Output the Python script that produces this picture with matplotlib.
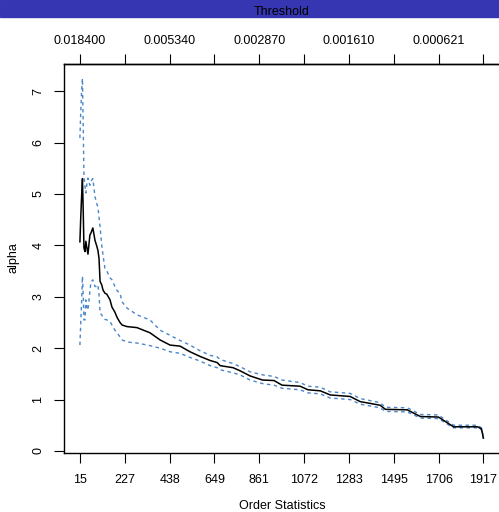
import matplotlib
matplotlib.use("Agg")
import matplotlib.pyplot as plt
from matplotlib.patches import Rectangle

plt.rcParams.update({
    'font.family': ['Liberation Sans', 'DejaVu Sans'],
    'font.size': 9,
})

# order statistics and Hill estimate with its band
k = [15, 19, 23, 27, 31, 34, 39, 43, 48, 53, 62, 67, 76, 86, 95, 100, 105,
     110, 118, 124, 133, 142, 157, 166, 180, 190, 204, 214, 237, 284, 345,
     393, 440, 487, 534, 581, 629, 662, 676, 737, 770, 817, 876, 930, 968,
     1053, 1090, 1148, 1195, 1289, 1336, 1430, 1455, 1558, 1620, 1705, 1776,
     1889, 1908, 1917]
alpha = [4.07, 4.55, 4.95, 5.3, 4.6, 3.95, 3.88, 4.08, 3.95, 3.83, 4.2, 4.24,
         4.34, 4.1, 3.98, 3.9, 3.75, 3.3, 3.23, 3.13, 3.07, 3.05, 2.94, 2.8,
         2.7, 2.6, 2.5, 2.45, 2.42, 2.4, 2.3, 2.16, 2.06, 2.04, 1.93, 1.84,
         1.76, 1.72, 1.66, 1.62, 1.56, 1.46, 1.38, 1.37, 1.28, 1.26, 1.19,
         1.17, 1.09, 1.06, 0.96, 0.89, 0.81, 0.80, 0.67, 0.66, 0.47, 0.47,
         0.43, 0.25]
upper = [6.09, 6.6, 7.0, 7.25, 6.2, 5.37, 5.15, 5.02, 5.2, 5.31, 5.17, 5.25,
         5.3, 4.95, 4.8, 4.75, 4.55, 4.36, 4.0, 3.81, 3.55, 3.5, 3.37, 3.33,
         3.2, 3.12, 3.07, 2.9, 2.78, 2.65, 2.55, 2.35, 2.25, 2.15, 2.06, 1.95,
         1.86, 1.83, 1.78, 1.70, 1.64, 1.54, 1.48, 1.45, 1.38, 1.33, 1.26,
         1.24, 1.15, 1.12, 1.02, 0.94, 0.85, 0.84, 0.71, 0.70, 0.50, 0.50,
         0.45, 0.26]
lower = [2.06, 2.5, 2.9, 3.4, 3.0, 2.55, 2.55, 2.94, 2.8, 2.74, 3.1, 3.29,
         3.33, 3.2, 3.2, 3.23, 3.05, 2.68, 2.65, 2.59, 2.56, 2.55, 2.52, 2.45,
         2.35, 2.3, 2.22, 2.16, 2.12, 2.1, 2.05, 2.0, 1.93, 1.9, 1.82, 1.75,
         1.66, 1.62, 1.58, 1.52, 1.48, 1.38, 1.31, 1.28, 1.22, 1.19, 1.13,
         1.11, 1.03, 1.0, 0.91, 0.84, 0.77, 0.76, 0.64, 0.63, 0.45, 0.45,
         0.41, 0.24]

order_ticks = [15, 227, 438, 649, 861, 1072, 1283, 1495, 1706, 1917]
threshold_labels = ['0.018400', '', '0.005340', '', '0.002870', '',
                    '0.001610', '', '0.000621', '']
alpha_ticks = [0, 1, 2, 3, 4, 5, 6, 7]

W, H = 499, 512
fig = plt.figure(figsize=(W / 100, H / 100), dpi=100)

# slide banner cut off at the top
fig.patches.append(Rectangle((0, 1 - 16.5 / H), 1, 16.5 / H,
                             transform=fig.transFigure, color='#3636b2',
                             zorder=0))

ax = fig.add_axes([64 / W, 1 - 453 / H, (501 - 64) / W, (453 - 64) / H])
ci_col = '#4a86c8'
ax.plot(k, upper, color=ci_col, lw=1.0, dashes=(2.5, 2.5))
ax.plot(k, lower, color=ci_col, lw=1.0, dashes=(2.5, 2.5))
ax.plot(k, alpha, color='black', lw=1.1)

ax.set_xlim(-60, 2000)
ax.set_ylim(-0.04, 7.53)
ax.spines['right'].set_visible(False)
for s in ['left', 'bottom', 'top']:
    ax.spines[s].set_linewidth(1.0)

ax.set_xticks(order_ticks)
ax.set_xticklabels([str(t) for t in order_ticks])
ax.set_yticks(alpha_ticks)
ax.set_yticklabels([str(t) for t in alpha_ticks], rotation=90, va='center')
ax.tick_params(axis='x', length=7, pad=8, labelsize=9)
ax.tick_params(axis='y', length=7, pad=7, labelsize=9)

top = ax.secondary_xaxis('top')
top.set_xticks(order_ticks)
top.set_xticklabels(threshold_labels)
top.tick_params(length=7, pad=5, labelsize=9)
top.spines['top'].set_linewidth(1.0)

fig.text(282 / W, 1 - 506 / H, 'Order Statistics', ha='center', va='center',
         fontsize=9)
fig.text(13 / W, 1 - 258 / H, 'alpha', ha='center', va='center',
         rotation=90, fontsize=9)
fig.text(282 / W, 1 - 12 / H, 'Threshold', ha='center', va='center',
         fontsize=9, zorder=5)

fig.savefig('out.png', dpi=100)
